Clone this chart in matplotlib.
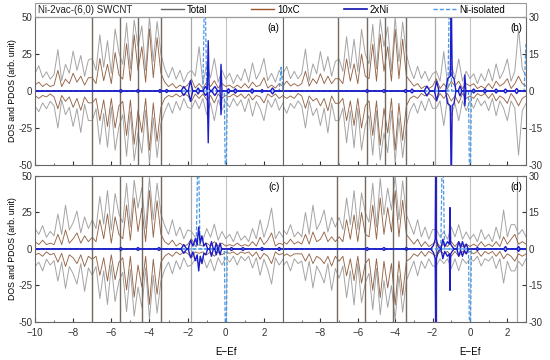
import matplotlib
matplotlib.use("Agg")
import matplotlib.pyplot as plt
from matplotlib.lines import Line2D
from matplotlib.patches import Rectangle

plt.rcParams['font.family'] = ['Liberation Sans', 'DejaVu Sans']

# energy grid (eV, E-Ef)
energy = [-10.0, -9.8, -9.6, -9.4, -9.2, -9.0, -8.8, -8.6, -8.4, -8.2,
          -8.0, -7.8, -7.6, -7.4, -7.2, -7.0, -6.8, -6.6, -6.4, -6.2,
          -6.0, -5.8, -5.6, -5.4, -5.2, -5.0, -4.8, -4.6, -4.4, -4.2,
          -4.0, -3.8, -3.6, -3.4, -3.2, -3.0, -2.8, -2.6, -2.4, -2.2,
          -2.0, -1.8, -1.6, -1.4, -1.2, -1.0, -0.8, -0.6, -0.4, -0.2,
          0.0, 0.2, 0.4, 0.6, 0.8, 1.0, 1.2, 1.4, 1.6, 1.8,
          2.0, 2.2, 2.4, 2.6, 2.8, 3.0]

# panel (a)
tot_up_a = [12, 17, 9, 13, 8, 11, 28, 7, 18, 12,
            27, 14, 24, 10, 21, 22, 14, 38, 16, 34,
            12, 42, 26, 18, 46, 15, 48, 30, 44, 14,
            50, 20, 47, 25, 15, 9, 16, 8, 14, 6,
            12, 14, 10, 30, 5, 18, 9, 22, 6, 14,
            8, 12, 5, 11, 7, 15, 6, 19, 8, 13,
            22, 7, 12, 6, 14, 9]
tot_dn_a = [-10, -14, -8, -12, -7, -10, -25, -6, -16, -11,
            -24, -12, -28, -9, -20, -20, -12, -36, -15, -38,
            -11, -40, -24, -16, -44, -14, -47, -28, -42, -13,
            -49, -18, -45, -22, -14, -8, -15, -7, -13, -5,
            -11, -12, -6, -12, -5, -16, -8, -20, -6, -13,
            -7, -11, -5, -10, -6, -14, -5, -17, -7, -12,
            -20, -6, -11, -5, -13, -8]
c_up_a = [4, 6, 3, 5, 3, 4, 14, 3, 8, 5,
          12, 6, 10, 4, 9, 9, 5, 22, 7, 18,
          5, 26, 11, 8, 32, 7, 38, 14, 30, 6,
          42, 9, 36, 12, 6, 3, 5, 2, 4, 2,
          4, 8, 2, 5, 2, 6, 3, 7, 2, 5,
          3, 4, 2, 4, 2, 5, 2, 6, 3, 4,
          9, 2, 4, 2, 5, 3]
c_dn_a = [-3, -5, -3, -4, -2, -4, -12, -3, -7, -4,
          -11, -5, -13, -4, -8, -8, -5, -20, -6, -24,
          -5, -25, -10, -7, -30, -6, -36, -13, -28, -5,
          -40, -8, -34, -11, -5, -3, -4, -2, -4, -2,
          -3, -7, -2, -5, -2, -6, -3, -8, -2, -5,
          -3, -4, -2, -4, -2, -5, -2, -6, -3, -4,
          -8, -2, -4, -2, -5, -3]

# panel (b)
tot_up_b = [7, 10, 5, 8, 5, 7, 17, 4, 11, 7,
            16, 8, 14, 6, 12, 13, 8, 22, 9, 21,
            8, 25, 15, 11, 27, 9, 29, 18, 26, 8,
            30, 12, 28, 15, 9, 5, 10, 5, 8, 4,
            7, 8, 4, 16, 3, 11, 5, 13, 4, 8,
            5, 7, 3, 7, 4, 9, 4, 11, 5, 8,
            13, 4, 8, 25, 9, 6]
tot_dn_b = [-6, -9, -5, -7, -4, -6, -15, -4, -10, -7,
            -14, -7, -17, -5, -12, -12, -7, -21, -8, -23,
            -7, -24, -14, -10, -26, -8, -28, -17, -25, -8,
            -29, -11, -27, -14, -8, -5, -9, -4, -8, -3,
            -7, -7, -4, -14, -3, -10, -5, -12, -4, -8,
            -4, -7, -3, -6, -4, -8, -3, -10, -4, -7,
            -12, -4, -7, -26, -8, -5]
c_up_b = [2, 4, 2, 3, 2, 3, 8, 2, 5, 3,
          7, 3, 6, 3, 5, 5, 3, 13, 4, 11,
          3, 15, 6, 5, 19, 4, 23, 8, 18, 4,
          25, 5, 21, 6, 4, 2, 3, 1, 2, 1,
          2, 5, 1, 3, 1, 4, 2, 4, 1, 3,
          2, 3, 1, 2, 1, 3, 1, 4, 2, 3,
          5, 1, 3, 6, 3, 2]
c_dn_b = [-2, -3, -2, -3, -1, -2, -7, -2, -4, -3,
          -6, -3, -8, -2, -5, -5, -3, -12, -4, -14,
          -3, -15, -6, -4, -18, -4, -22, -7, -17, -3,
          -24, -5, -20, -6, -3, -2, -3, -1, -2, -1,
          -2, -4, -1, -3, -1, -4, -2, -5, -1, -3,
          -2, -3, -1, -2, -1, -3, -1, -4, -2, -3,
          -5, -1, -3, -6, -3, -2]

# panel (c)
tot_up_c = [14, 10, 16, 8, 12, 9, 24, 10, 30, 13,
            18, 26, 11, 22, 14, 20, 14, 36, 17, 40,
            13, 38, 24, 18, 45, 15, 47, 28, 42, 14,
            49, 20, 45, 24, 16, 10, 20, 9, 15, 7,
            13, 12, 8, 11, 6, 14, 8, 17, 6, 12,
            7, 10, 5, 12, 6, 9, 5, 14, 7, 20,
            8, 16, 28, 7, 12, 8]
tot_dn_c = [-12, -9, -15, -7, -11, -8, -22, -9, -27, -12,
            -17, -24, -10, -29, -13, -18, -12, -34, -15, -38,
            -11, -36, -22, -16, -43, -14, -46, -26, -40, -13,
            -48, -18, -44, -22, -14, -9, -17, -8, -14, -6,
            -12, -11, -7, -10, -5, -13, -7, -15, -6, -11,
            -6, -9, -5, -11, -5, -8, -5, -13, -6, -18,
            -7, -14, -24, -6, -11, -7]
c_up_c = [5, 3, 6, 3, 4, 3, 10, 3, 13, 4,
          7, 11, 4, 9, 5, 8, 5, 20, 7, 24,
          4, 22, 10, 7, 30, 6, 35, 12, 28, 5,
          40, 8, 33, 10, 5, 3, 6, 2, 4, 2,
          3, 7, 2, 3, 2, 4, 2, 5, 2, 4,
          2, 3, 2, 4, 2, 3, 2, 5, 2, 8,
          3, 6, 11, 2, 4, 3]
c_dn_c = [-4, -3, -5, -2, -4, -3, -9, -3, -12, -4,
          -6, -10, -4, -12, -5, -7, -5, -18, -6, -22,
          -4, -21, -9, -6, -28, -5, -33, -11, -26, -5,
          -38, -7, -31, -9, -5, -3, -5, -2, -4, -2,
          -3, -6, -2, -3, -2, -4, -2, -5, -2, -4,
          -2, -3, -2, -4, -2, -3, -2, -5, -2, -7,
          -3, -5, -10, -2, -4, -3]

# panel (d)
tot_up_d = [8, 6, 10, 5, 7, 5, 15, 6, 18, 8,
            11, 16, 7, 13, 9, 13, 8, 21, 10, 24,
            8, 23, 15, 11, 27, 9, 29, 14, 25, 16,
            30, 12, 28, 14, 10, 6, 12, 5, 9, 4,
            8, 8, 5, 7, 4, 9, 5, 10, 4, 7,
            4, 6, 3, 8, 4, 6, 3, 9, 4, 16,
            5, 10, 10, 6, 8, 5]
tot_dn_d = [-7, -5, -9, -4, -6, -5, -13, -5, -16, -7,
            -10, -14, -6, -17, -8, -12, -7, -20, -9, -23,
            -6, -22, -14, -10, -25, -8, -27, -13, -24, -15,
            -29, -11, -26, -13, -9, -5, -11, -5, -8, -4,
            -7, -7, -4, -6, -4, -8, -4, -9, -4, -6,
            -4, -5, -3, -7, -4, -5, -3, -8, -4, -14,
            -5, -9, -9, -5, -7, -4]
c_up_d = [3, 2, 4, 2, 3, 2, 6, 2, 7, 3,
          4, 7, 3, 5, 3, 5, 3, 12, 4, 14,
          3, 15, 6, 5, 18, 4, 21, 6, 17, 7,
          24, 5, 20, 6, 4, 2, 4, 1, 3, 1,
          2, 3, 1, 2, 1, 3, 1, 3, 1, 2,
          1, 2, 1, 3, 1, 2, 1, 3, 1, 5,
          2, 4, 6, 2, 3, 2]
c_dn_d = [-3, -2, -3, -2, -2, -2, -5, -2, -6, -3,
          -4, -6, -3, -7, -3, -5, -3, -11, -4, -13,
          -3, -14, -6, -4, -17, -4, -20, -5, -16, -6,
          -23, -5, -19, -5, -4, -2, -3, -1, -3, -1,
          -2, -3, -1, -2, -1, -3, -1, -3, -1, -2,
          -1, -2, -1, -3, -1, -2, -1, -3, -1, -4,
          -2, -3, -5, -2, -3, -2]

# energies of peaks that run off the scale (up and down)
peaks_c_a = [-7.0, -5.55, -4.62, -3.4]
peaks_tot_a = [-1.84]
peaks_c_b = [-7.04, -5.52, -4.55, -3.42]
peaks_tot_b = [-1.87]
peaks_c_c = [-7.0, -5.54, -4.4, -3.4]
peaks_tot_c = [-1.84]
peaks_c_d = [-7.13, -5.6, -4.1, -3.42, -1.83]
peaks_tot_d = [2.5]

# 2xNi PDOS: (E, up, down)
ni_a = [(-10.0, 0, 0), (-5.6, 0, 0), (-5.5, 1, -1), (-5.4, 0, 0), (-4.7, 0, 0), (-4.6, 1, -1),
        (-4.5, 0, 0), (-3.55, 0, 0), (-3.45, 1, -1), (-3.35, 0, 0), (-3.2, 0, 0), (-3.1, 1, -1),
        (-3.0, 0, 0), (-2.35, 0, 0), (-2.2, 3, -3), (-2.05, 0, 0), (-1.97, 0, 0), (-1.85, 7, -7),
        (-1.73, 0, 0), (-1.55, 0, 0), (-1.45, 2, -2), (-1.35, 0, 0), (-1.2, 0, 0), (-1.07, 3, -3),
        (-0.97, 1, -1), (-0.92, 34, -35), (-0.87, 1, -1), (-0.75, 0, 0), (-0.57, 3, -3), (-0.42, 0, 0),
        (-0.3, 0, 0), (-0.25, 18, -16), (-0.2, 0, 0), (0.05, 0, 0), (0.14, 1.5, -1.5), (0.23, 0, 0),
        (0.4, 0, 0), (0.5, 1.5, -1.5), (0.6, 0, 0), (1.28, 0, 0), (1.38, 1.5, -1.5), (1.48, 0, 0),
        (1.82, 0, 0), (1.9, 1, -1), (1.98, 0, 0), (2.33, 0, 0), (2.45, 2, -2), (2.57, 0, 0), (3.0, 0, 0)]
ni_b = [(-10.0, 0, 0), (-5.6, 0, 0), (-5.5, 0.6, -0.6), (-5.4, 0, 0), (-4.7, 0, 0), (-4.6, 0.6, -0.6),
        (-4.5, 0, 0), (-3.55, 0, 0), (-3.45, 0.6, -0.6), (-3.35, 0, 0), (-3.2, 0, 0), (-3.1, 0.8, -0.8),
        (-3.0, 0, 0), (-2.45, 0, 0), (-2.3, 2, -2), (-2.15, 0, 0), (-1.9, 0, 0), (-1.78, 4, -4),
        (-1.66, 0, 0), (-1.3, 0, 0), (-1.2, 5, -5), (-1.05, 6, -6), (-1.0, 40, -40), (-0.95, 6, -6),
        (-0.85, 5, -5), (-0.75, 0, 0), (-0.63, 0, 0), (-0.53, 2, -2), (-0.43, 0, 0), (-0.32, 0, 0),
        (-0.27, 6.5, -6), (-0.22, 0, 0), (0.1, 0, 0), (0.2, 0.8, -0.8), (0.3, 0, 0), (0.7, 0, 0),
        (0.8, 0.8, -0.8), (0.9, 0, 0), (1.3, 0, 0), (1.4, 0.8, -0.8), (1.5, 0, 0), (1.8, 0, 0),
        (1.9, 0.8, -0.8), (2.0, 0, 0), (2.4, 0, 0), (2.5, 1, -1), (2.6, 0, 0), (3.0, 0, 0)]
ni_c = [(-10.0, 0, 0), (-5.6, 0, 0), (-5.5, 1, -1), (-5.4, 0, 0), (-4.7, 0, 0), (-4.6, 1, -1),
        (-4.5, 0, 0), (-3.6, 0, 0), (-3.5, 1, -1), (-3.4, 0, 0), (-2.35, 0, 0), (-2.2, 3, -3),
        (-2.05, 0, 0), (-1.97, 0, 0), (-1.84, 6, -6), (-1.72, 2, -2), (-1.6, 7, -8), (-1.5, 3, -4),
        (-1.42, 15, -15), (-1.34, 4, -5), (-1.25, 9, -10), (-1.15, 2, -3), (-1.05, 4, -4), (-0.95, 0, 0),
        (-0.85, 0, 0), (-0.75, 5, -5), (-0.65, 0, 0), (-0.58, 0, 0), (-0.5, 4, -4), (-0.42, 0, 0),
        (-0.38, 0, 0), (-0.3, 4, -4), (-0.22, 0, 0), (0.2, 0, 0), (0.3, 1, -1), (0.4, 0, 0),
        (0.8, 0, 0), (0.9, 1, -1), (1.0, 0, 0), (1.8, 0, 0), (1.9, 1, -1), (2.0, 0, 0),
        (2.7, 0, 0), (2.8, 1, -1), (2.9, 0, 0), (3.0, 0, 0)]
ni_d = [(-10.0, 0, 0), (-5.6, 0, 0), (-5.5, 0.6, -0.6), (-5.4, 0, 0), (-4.7, 0, 0), (-4.6, 0.6, -0.6),
        (-4.5, 0, 0), (-3.5, 0, 0), (-3.4, 0.6, -0.6), (-3.3, 0, 0), (-2.1, 0, 0), (-1.95, 1.5, -1.5),
        (-1.86, 4, -4), (-1.83, 40, -40), (-1.8, 4, -4), (-1.7, 1, -1), (-1.55, 0, 0), (-1.45, 4, -4),
        (-1.35, 1, -1), (-1.2, 3, -3), (-1.1, 2, -2), (-1.07, 17, -17), (-1.03, 2, -2), (-0.95, 1, -1),
        (-0.85, 0, 0), (-0.7, 0, 0), (-0.6, 3, -3), (-0.5, 0.5, -0.5), (-0.4, 3, -3), (-0.3, 0.5, -0.5),
        (-0.2, 2, -2), (-0.1, 0, 0), (0.3, 0, 0), (0.4, 0.6, -0.6), (0.5, 0, 0), (1.8, 0, 0),
        (1.9, 1, -1), (2.0, 0, 0), (2.5, 0, 0), (2.6, 1, -1), (2.7, 0, 0), (3.0, 0, 0)]

# isolated Ni atom: (E, up, down)
iso_a = [(-10.0, 0, 0), (-1.2, 0, 0), (-1.1, 80, 0), (-1.0, 0, 0), (-0.08, 0, 0), (0.0, 0, -80),
         (0.08, 0, 0), (2.8, 0, 0), (2.9, 16, 0), (3.0, 0, 0)]
iso_b = [(-10.0, 0, 0), (-1.18, 0, 0), (-1.08, 50, 0), (-0.98, 0, 0), (-0.08, 0, 0), (0.0, 0, -50),
         (0.08, 0, 0), (2.9, 0, 0), (3.0, 20, 0)]
iso_c = [(-10.0, 0, 0), (-1.55, 0, 0), (-1.45, 80, 0), (-1.35, 0, 0), (-0.08, 0, 0), (0.0, 0, -80),
         (0.08, 0, 0), (3.0, 0, 0)]
iso_d = [(-10.0, 0, 0), (-1.56, 0, 0), (-1.46, 50, 0), (-1.36, 0, 0), (-0.08, 0, 0), (0.0, 0, -50),
         (0.08, 0, 0), (3.0, 0, 0)]

panels = {
    'a': (tot_up_a, tot_dn_a, c_up_a, c_dn_a, ni_a, iso_a, peaks_c_a, peaks_tot_a),
    'b': (tot_up_b, tot_dn_b, c_up_b, c_dn_b, ni_b, iso_b, peaks_c_b, peaks_tot_b),
    'c': (tot_up_c, tot_dn_c, c_up_c, c_dn_c, ni_c, iso_c, peaks_c_c, peaks_tot_c),
    'd': (tot_up_d, tot_dn_d, c_up_d, c_dn_d, ni_d, iso_d, peaks_c_d, peaks_tot_d),
}

c_tot = '#a4a4a4'
c_c = '#956548'
c_peak = '#756a60'
c_ni = '#1c1cc8'
c_iso = '#4a98e6'

fig = plt.figure(figsize=(5.5, 3.6), dpi=100)
boxes = {
    'a': [0.0636, 0.5417, 0.451, 0.411],
    'b': [0.5146, 0.5417, 0.4418, 0.411],
    'c': [0.0636, 0.1056, 0.451, 0.4056],
    'd': [0.5146, 0.1056, 0.4418, 0.4056],
}

for key, (tu, td, cu, cd, ni, iso, pk_c, pk_t) in panels.items():
    ax = fig.add_axes(boxes[key])
    ylim = 50 if key in 'ac' else 30
    ax.axvline(0, color='#c4c4c4', lw=0.8, zorder=0)
    ax.vlines(pk_t, -ylim, ylim, color='#a8a8a8', lw=0.9)
    ax.plot(energy, tu, color=c_tot, lw=0.7)
    ax.plot(energy, td, color=c_tot, lw=0.7)
    ax.plot(energy, cu, color=c_c, lw=0.65)
    ax.plot(energy, cd, color=c_c, lw=0.65)
    ax.vlines(pk_c, -ylim, ylim, color=c_peak, lw=1.0)
    ie, iu, idn = zip(*iso)
    ax.plot(ie, iu, color=c_iso, lw=0.9, ls=(0, (3, 1.5)))
    ax.plot(ie, idn, color=c_iso, lw=0.9, ls=(0, (3, 1.5)))
    ne, nu, nd = zip(*ni)
    ax.plot(ne, nu, color=c_ni, lw=1.0)
    ax.plot(ne, nd, color=c_ni, lw=1.0)

    ax.set_xlim(-10, 3)
    ax.set_ylim(-ylim, ylim)
    ax.set_xticks([-10, -8, -6, -4, -2, 0, 2] if key in 'ac' else [-8, -6, -4, -2, 0, 2])
    ax.set_xticks(range(-10, 4), minor=True)
    yt = [-ylim, -ylim // 2, 0, ylim // 2, ylim]
    ax.set_yticks(yt)
    ax.set_yticklabels([f'{v:g}' for v in yt])
    ax.tick_params(direction='in', length=3, labelsize=7, colors='#333333', pad=2)
    ax.tick_params(axis='x', pad=4)
    ax.tick_params(which='minor', direction='in', length=1.5, colors='#555555')
    for s in ax.spines.values():
        s.set_color('#666666')
        s.set_linewidth(0.8)
    if key in 'bd':
        ax.yaxis.tick_right()
    if key in 'ab':
        ax.tick_params(labelbottom=False)
    else:
        ax.set_xlabel('E\u2212Ef', fontsize=7)
        ax.xaxis.set_label_coords(10 / 13, -0.17)
    if key in 'ac':
        ax.set_ylabel('DOS and PDOS (arb. unit)', fontsize=6.3, labelpad=1)
    ax.text(0.985, 0.96, f'({key})', transform=ax.transAxes, ha='right', va='top', fontsize=7)

# legend frame spanning the panels
fig.patches.append(Rectangle((0.0636, 0.953), 0.8928, 0.039, transform=fig.transFigure,
                             fill=False, edgecolor='#999999', lw=0.8))
fig.text(0.069, 0.9725, 'Ni-2vac-(6,0) SWCNT', fontsize=7, va='center', ha='left', color='#222222')
handles = [Line2D([], [], color='#666666', lw=1.0),
           Line2D([], [], color='#a0522d', lw=1.0),
           Line2D([], [], color='#1010b0', lw=1.2),
           Line2D([], [], color=c_iso, lw=1.0, ls=(0, (3, 1.5)))]
fig.legend(handles, ['Total', '10xC', '2xNi', 'Ni-isolated'], loc='center',
           bbox_to_anchor=(0.285, 0.953, 0.64, 0.039), mode='expand', ncol=4,
           frameon=False, fontsize=7, handlelength=2.4, handletextpad=0.3, borderaxespad=0)

fig.savefig('out.png', dpi=100)
